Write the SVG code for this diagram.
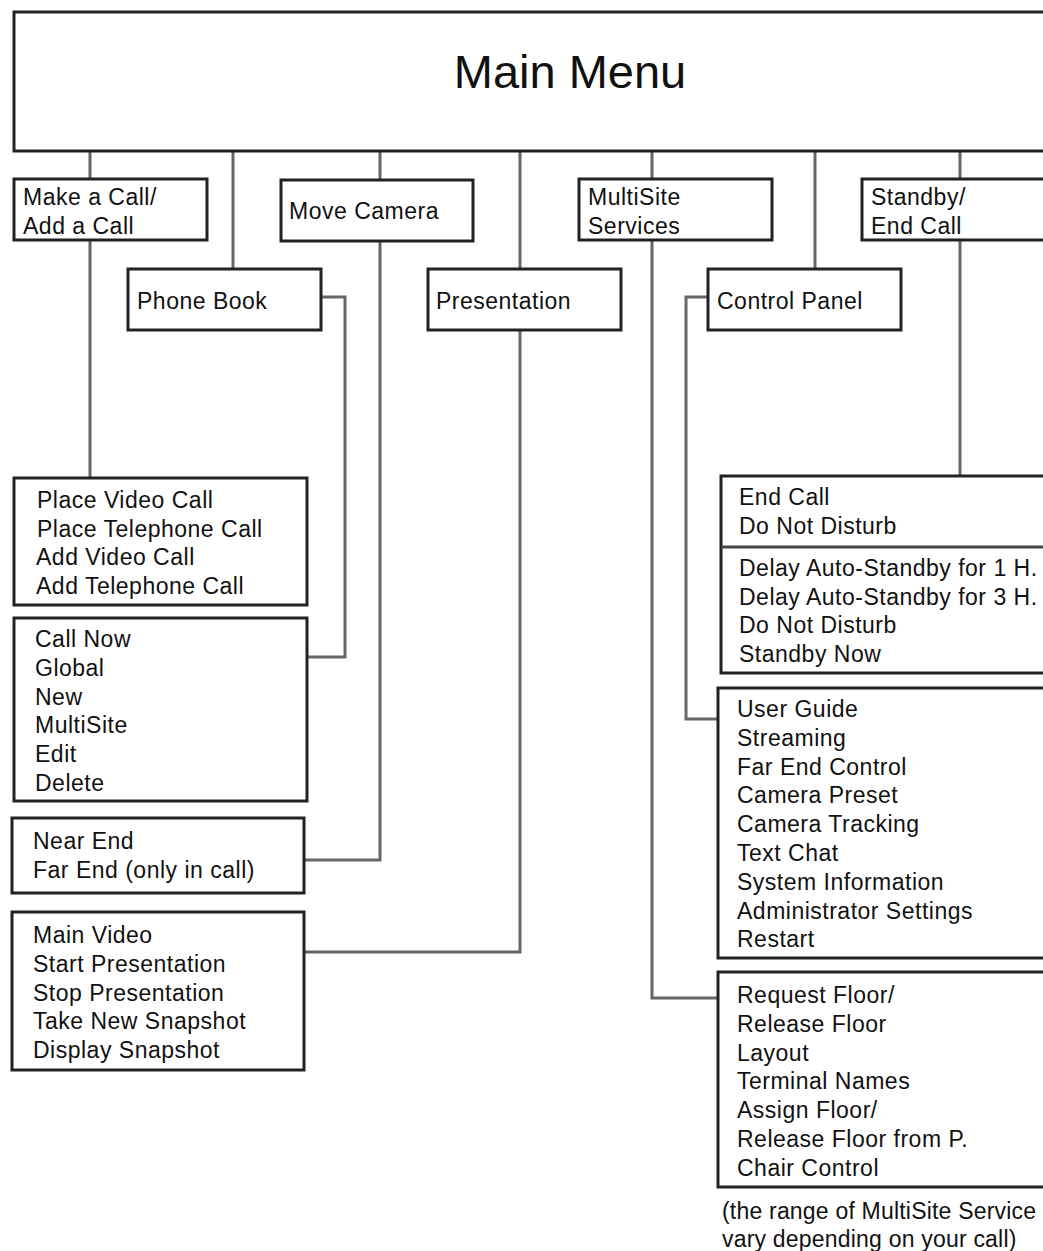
<svg xmlns="http://www.w3.org/2000/svg" width="1043" height="1251" viewBox="0 0 1043 1251">
<style>
.box{fill:#fff;stroke:#222;stroke-width:3}
.con{fill:none;stroke:#666;stroke-width:3}
text{font-family:"Liberation Sans",Arial,sans-serif;font-size:23px;fill:#111;letter-spacing:0.5px}
.title{font-size:47px;text-anchor:middle;letter-spacing:0}
.note{letter-spacing:0.2px}
</style>
<rect width="1043" height="1251" fill="#fff"/>
<g id="connectors">
<path class="con" d="M90 151V179M90 240V478"/>
<path class="con" d="M233 151V269"/>
<path class="con" d="M380 151V180M380 241V860H305"/>
<path class="con" d="M520 151V269M520 330V952H305"/>
<path class="con" d="M652 151V179M652 240V998H718"/>
<path class="con" d="M815 151V269"/>
<path class="con" d="M960 151V179M960 240V476"/>
<path class="con" d="M321 297H345V657H307"/>
<path class="con" d="M708 297H686V719H718"/>
</g>
<g id="main-menu"><rect class="box" x="14" y="12" width="1050" height="139"/><text class="title" x="570" y="88">Main Menu</text></g>
<g id="make-call"><rect class="box" x="14" y="179" width="193" height="61"/><text x="23" y="205">Make a Call/</text><text x="23" y="234">Add a Call</text></g>
<g id="move-camera"><rect class="box" x="281" y="180" width="192" height="61"/><text x="289" y="219">Move Camera</text></g>
<g id="multisite"><rect class="box" x="579" y="179" width="193" height="61"/><text x="588" y="205">MultiSite</text><text x="588" y="234">Services</text></g>
<g id="standby"><rect class="box" x="862" y="179" width="200" height="61"/><text x="871" y="205">Standby/</text><text x="871" y="234">End Call</text></g>
<g id="phone-book"><rect class="box" x="128" y="269" width="193" height="61"/><text x="137" y="309">Phone Book</text></g>
<g id="presentation"><rect class="box" x="428" y="269" width="193" height="61"/><text x="436" y="309">Presentation</text></g>
<g id="control-panel"><rect class="box" x="708" y="269" width="193" height="61"/><text x="717" y="309">Control Panel</text></g>
<g id="call-options"><rect class="box" x="14" y="478" width="293" height="127"/>
<text x="37" y="508">Place Video Call</text><text x="37" y="537">Place Telephone Call</text><text x="36" y="565">Add Video Call</text><text x="36" y="594">Add Telephone Call</text></g>
<g id="phonebook-options"><rect class="box" x="14" y="618" width="293" height="183"/>
<text x="35" y="647">Call Now</text><text x="35" y="676">Global</text><text x="35" y="705">New</text><text x="35" y="733">MultiSite</text><text x="35" y="762">Edit</text><text x="35" y="791">Delete</text></g>
<g id="camera-options"><rect class="box" x="12" y="818" width="292" height="75"/>
<text x="33" y="849">Near End</text><text x="33" y="878">Far End (only in call)</text></g>
<g id="presentation-options"><rect class="box" x="12" y="912" width="292" height="158"/>
<text x="33" y="943">Main Video</text><text x="33" y="972">Start Presentation</text><text x="33" y="1001">Stop Presentation</text><text x="33" y="1029">Take New Snapshot</text><text x="33" y="1058">Display Snapshot</text></g>
<g id="standby-options"><rect class="box" x="721" y="476" width="340" height="197"/><line x1="721" y1="547" x2="1061" y2="547" stroke="#444" stroke-width="3"/>
<text x="739" y="505">End Call</text><text x="739" y="534">Do Not Disturb</text>
<text x="739" y="576">Delay Auto-Standby for 1 H.</text><text x="739" y="605">Delay Auto-Standby for 3 H.</text><text x="739" y="633">Do Not Disturb</text><text x="739" y="662">Standby Now</text></g>
<g id="control-options"><rect class="box" x="718" y="688" width="343" height="270"/>
<text x="737" y="717">User Guide</text><text x="737" y="746">Streaming</text><text x="737" y="775">Far End Control</text><text x="737" y="803">Camera Preset</text><text x="737" y="832">Camera Tracking</text><text x="737" y="861">Text Chat</text><text x="737" y="890">System Information</text><text x="737" y="919">Administrator Settings</text><text x="737" y="947">Restart</text></g>
<g id="multisite-options"><rect class="box" x="718" y="972" width="343" height="215"/>
<text x="737" y="1003">Request Floor/</text><text x="737" y="1032">Release Floor</text><text x="737" y="1061">Layout</text><text x="737" y="1089">Terminal Names</text><text x="737" y="1118">Assign Floor/</text><text x="737" y="1147">Release Floor from P.</text><text x="737" y="1176">Chair Control</text></g>
<g id="note"><text class="note" x="722" y="1219">(the range of MultiSite Service</text><text class="note" x="722" y="1247">vary depending on your call)</text></g>
</svg>
